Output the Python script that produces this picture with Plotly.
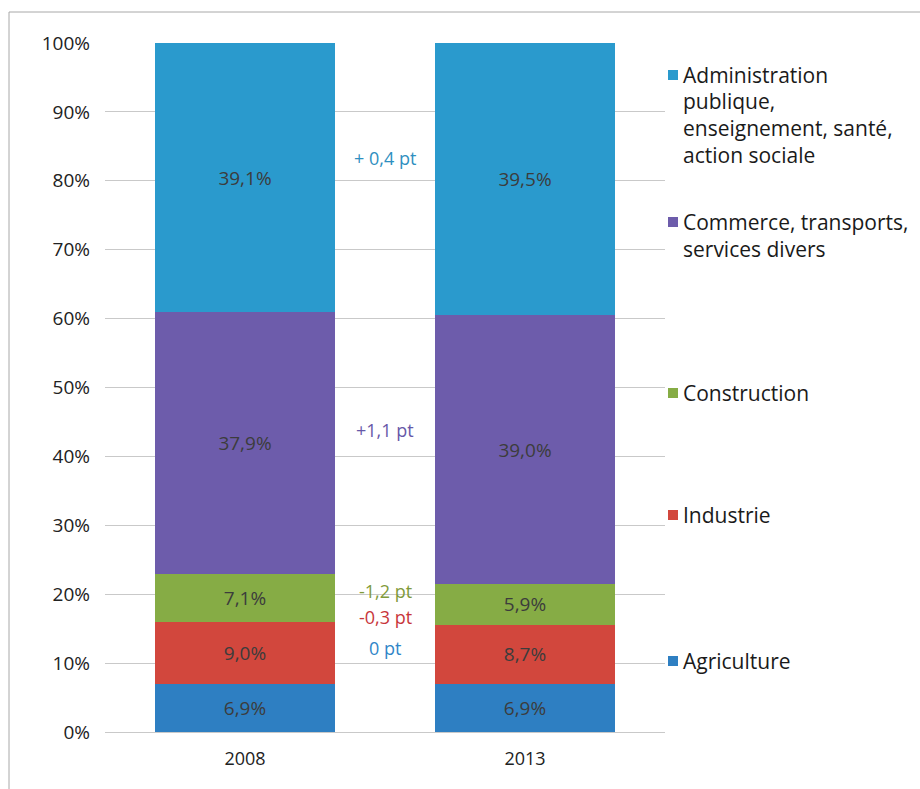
import plotly.graph_objects as go

# Employment share by sector, 2008 vs 2013 (percent of total)
years = ["2008", "2013"]
sectors = [
    "Agriculture",
    "Industrie",
    "Construction",
    "Commerce, transports, services divers",
    "Administration publique, enseignement, santé, action sociale",
]
agriculture = [6.9, 6.9]
industrie = [9.0, 8.7]
construction = [7.1, 5.9]
commerce = [37.9, 39.0]
administration = [39.1, 39.5]
series_values = [agriculture, industrie, construction, commerce, administration]

# Change between the two years, in percentage points
change_labels = ["0 pt", "-0,3 pt", "-1,2 pt", "+1,1 pt", "+ 0,4 pt"]

y_ticks = [0, 10, 20, 30, 40, 50, 60, 70, 80, 90, 100]
y_tick_text = [f"{v}%" for v in y_ticks]

# Legend entries (lines of text per entry), top to bottom
legend_lines = [
    ["Administration", "publique,", "enseignement, santé,", "action sociale"],
    ["Commerce, transports,", "services divers"],
    ["Construction"],
    ["Industrie"],
    ["Agriculture"],
]

# ---- styling ----
FONT = "Open Sans"
colors = ["#2e7fc2", "#d2473d", "#86ac45", "#6d5cab", "#2a9acd"]
change_colors = ["#2f86c8", "#c8363a", "#7f9a3a", "#6658a8", "#2e8fc0"]
change_y = [12.2, 16.7, 20.5, 43.8, 83.3]
legend_colors = ["#2a9acd", "#6d5cab", "#86ac45", "#d2473d", "#2e7fc2"]
legend_top_px = [75, 222, 393, 515, 661]

W, H = 920, 789
L, R, T, B = 105, 255, 43, 57
PW, PH = W - L - R, H - T - B


def px_x(x):
    return (x - L) / PW


def px_y(y):
    return (H - B - y) / PH


def fmt(v):
    return f"{v:.1f}".replace(".", ",") + "%"


fig = go.Figure()
for name, vals, col in zip(sectors, series_values, colors):
    fig.add_trace(go.Bar(
        x=years, y=vals, name=name,
        marker=dict(color=col, line=dict(width=0)),
        text=[fmt(v) for v in vals],
        textposition="inside", insidetextanchor="middle",
        textfont=dict(family=FONT, size=19, color="#3c3c3c"),
        hoverinfo="skip",
    ))

annotations = []
for txt, yv, col in zip(change_labels, change_y, change_colors):
    annotations.append(dict(
        x=0.5, y=yv, xref="x", yref="y", text=txt, showarrow=False,
        font=dict(family=FONT, size=18, color=col),
        xanchor="center", yanchor="middle",
    ))

shapes = []
line_h = 26.5
for lines, top, col in zip(legend_lines, legend_top_px, legend_colors):
    shapes.append(dict(
        type="rect", xref="paper", yref="paper",
        x0=px_x(668), x1=px_x(678), y0=px_y(top + 5), y1=px_y(top - 5),
        fillcolor=col, line=dict(width=0),
    ))
    for i, ln in enumerate(lines):
        annotations.append(dict(
            x=px_x(681), y=px_y(top + i * line_h), xref="paper", yref="paper",
            text=ln, showarrow=False, xanchor="left", yanchor="middle",
            font=dict(family=FONT, size=21, color="#1a1a1a"),
        ))

# outer frame
shapes.append(dict(
    type="path", xref="paper", yref="paper",
    path=f"M {px_x(9)},{px_y(H + 5)} L {px_x(9)},{px_y(12)} L {px_x(W + 5)},{px_y(12)}",
    line=dict(color="#a8a8a8", width=1),
))

fig.update_layout(
    barmode="stack",
    bargap=0.36,
    width=W, height=H,
    margin=dict(l=L, r=R, t=T, b=B, pad=0),
    paper_bgcolor="white", plot_bgcolor="white",
    showlegend=False,
    font=dict(family=FONT, size=18, color="#222222"),
    annotations=annotations,
    shapes=shapes,
    uniformtext=dict(mode="show", minsize=10),
)
fig.update_xaxes(
    type="category", showgrid=False, showline=False, ticks="",
    tickfont=dict(family=FONT, size=18, color="#222222"),
    ticklabelstandoff=14,
)
fig.update_yaxes(
    range=[0, 100], tickvals=y_ticks, ticktext=y_tick_text,
    showgrid=True, gridcolor="#c9c9c9", gridwidth=1,
    zeroline=True, zerolinecolor="#c9c9c9", zerolinewidth=1,
    showline=False, ticks="",
    tickfont=dict(family=FONT, size=19, color="#222222"),
    ticklabelstandoff=14,
)

fig.write_html("out.html")
